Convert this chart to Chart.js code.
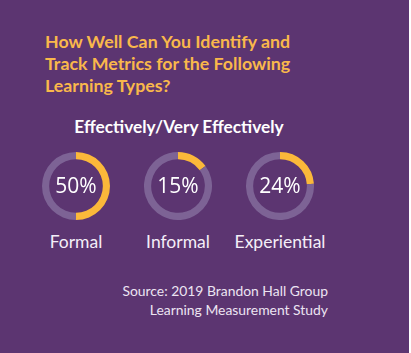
<!DOCTYPE html>
<html>
<head>
<meta charset="utf-8">
<script src="https://cdn.jsdelivr.net/npm/chart.js@4"></script>
<style>
  html, body { margin: 0; padding: 0; background: #fff; }
  #card {
    position: relative; width: 409px; height: 353px; background: #5c3571;
    font-family: Lato, 'Open Sans', sans-serif; overflow: hidden;
  }
  #title {
    position: absolute; left: 45px; top: 30px; color: #f9b84b;
    font-weight: bold; font-size: 17.8px; line-height: 22px;
  }
  #sub {
    position: absolute; left: 0; width: 358px; top: 116px; text-align: center;
    color: #fff; font-weight: bold; font-size: 17.3px;
  }
  .ring { position: absolute; top: 152px; }
  .lbl {
    position: absolute; top: 231px; width: 120px; text-align: center;
    color: #f4eef8; font-size: 17.5px;
  }
  #src {
    position: absolute; right: 81px; top: 282px; text-align: right;
    color: #ece4f2; font-size: 13.9px; line-height: 18.5px;
  }
</style>
</head>
<body>
<div id="card">
  <div id="title">How Well Can You Identify and<br>Track Metrics for the Following<br>Learning Types?</div>
  <div id="sub">Effectively/Very Effectively</div>
  <div id="src">Source: 2019 Brandon Hall Group<br>Learning Measurement Study</div>
</div>
<script>
// 数据
const categories = ['Formal', 'Informal', 'Experiential'];
const values = [50, 15, 24];
const centersX = [76, 178, 280];

const ORANGE = '#fbb83a';
const TRACK = '#7d6395';
const SIZE = 68;

// 中心文字插件
const centerText = {
  id: 'centerText',
  afterDraw(chart) {
    const { ctx, chartArea } = chart;
    const x = (chartArea.left + chartArea.right) / 2;
    const y = (chartArea.top + chartArea.bottom) / 2;
    ctx.save();
    ctx.fillStyle = '#ffffff';
    ctx.font = "21px 'Open Sans', sans-serif";
    ctx.textAlign = 'center';
    ctx.textBaseline = 'middle';
    ctx.fillText(chart.data.datasets[0].data[0] + '%', x, y + 1);
    ctx.restore();
  }
};

const card = document.getElementById('card');
categories.forEach((name, i) => {
  const canvas = document.createElement('canvas');
  canvas.className = 'ring';
  canvas.width = SIZE;
  canvas.height = SIZE;
  canvas.style.left = (centersX[i] - SIZE / 2) + 'px';
  card.appendChild(canvas);

  const lbl = document.createElement('div');
  lbl.className = 'lbl';
  lbl.style.left = (centersX[i] - 60) + 'px';
  lbl.textContent = name;
  card.appendChild(lbl);

  new Chart(canvas.getContext('2d'), {
    type: 'doughnut',
    data: {
      labels: [name, ''],
      datasets: [{
        data: [values[i], 100 - values[i]],
        backgroundColor: [ORANGE, TRACK],
        borderWidth: 0,
        hoverOffset: 0
      }]
    },
    options: {
      responsive: false,
      animation: false,
      cutout: '79%',
      layout: { padding: 0 },
      plugins: { legend: { display: false }, tooltip: { enabled: false } }
    },
    plugins: [centerText]
  });
});
</script>
</body>
</html>
